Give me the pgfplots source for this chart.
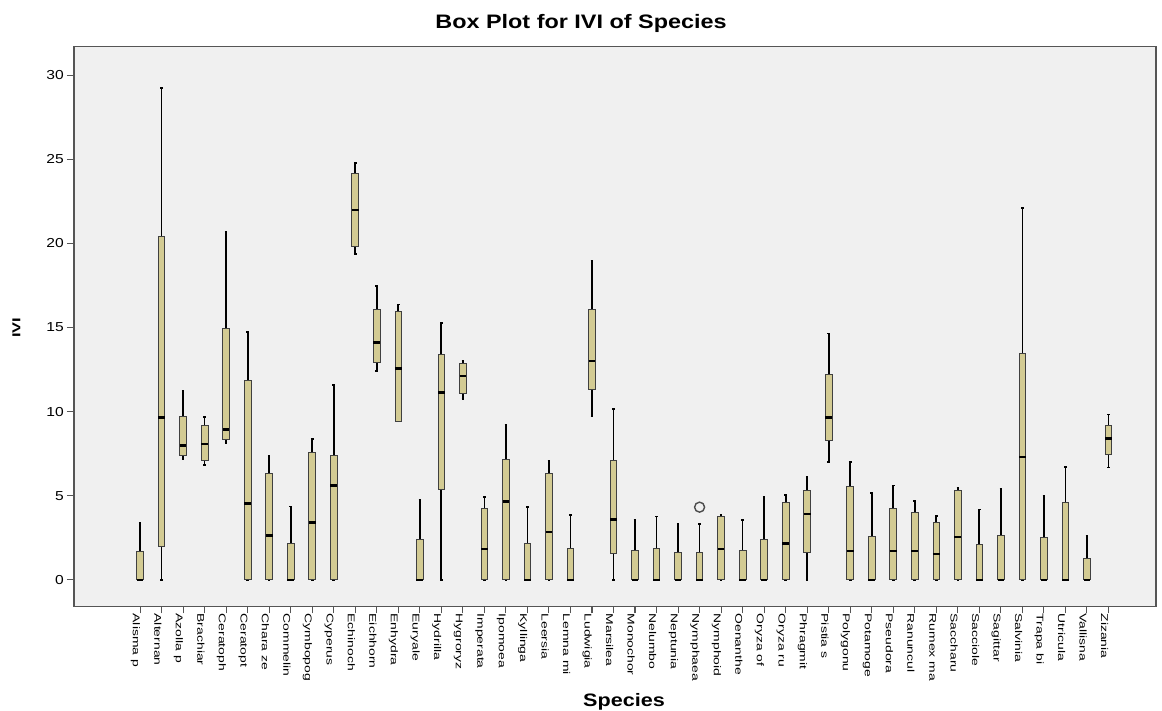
\documentclass[border=0pt]{standalone}
\usepackage{fontspec}
\setmainfont{Liberation Sans}
\newfontfamily\hfont[FakeStretch=1.2]{Liberation Sans}
\newfontfamily\vfont[FakeStretch=1.42]{Liberation Sans}
\usepackage{pgfplots}
\pgfplotsset{compat=1.18}
\usepgfplotslibrary{statistics}
\definecolor{plotbg}{HTML}{F0F0F0}
\definecolor{boxfill}{HTML}{D3CB93}
\definecolor{framec}{HTML}{555555}
\pgfplotsset{
  bx/.style n args={6}{boxplot prepared={draw direction=y, draw position=#1, lower whisker=#2, lower quartile=#3, median=#4, upper quartile=#5, upper whisker=#6, box extend=0.31, whisker extend=0.12}},
}
\begin{document}
\begin{tikzpicture}
\useasboundingbox (-74pt,-104.5pt) rectangle (1088pt,606.5pt);
\begin{axis}[
  at={(0pt,0pt)}, anchor=south west,
  scale only axis, width=1082pt, height=560pt,
  xmin=-3.07, xmax=47.21, ymin=-1.585, ymax=31.70,
  axis background/.style={fill=plotbg},
  axis line style={draw=framec, line width=1.3pt},
  tick align=outside, tick pos=left,
  major tick length=7pt,
  major tick style={draw=framec, line width=1.1pt},
  xtick={0,...,45},
  xticklabels={Alisma p,Alternan,Azolla p,Brachiar,Ceratoph,Ceratopt,Chara ze,Commelin,Cymbopog,Cyperus,Echinoch,Eichhorn,Enhydra,Euryale,Hydrilla,Hygroryz,Imperata,Ipomoea,Kyllinga,Leersia,Lemna mi,Ludwigia,Marsilea,Monochor,Nelumbo,Neptunia,Nymphaea,Nymphoid,Oenanthe,Oryza of,Oryza ru,Phragmit,Pistia s,Polygonu,Potamoge,Pseudora,Ranuncul,Rumex ma,Saccharu,Sacciole,Sagittar,Salvinia,Trapa bi,Utricula,Vallisna,Zizania},
  x tick label style={font=\vfont\fontsize{9.8}{9.8}\selectfont, rotate=-90, anchor=north west, inner sep=0pt},
  ytick={0,5,...,30},
  y tick label style={font=\hfont\fontsize{13}{13}\selectfont, anchor=east, inner sep=0pt, xshift=-3pt},
  /pgf/number format/assume math mode=true,
  title={Box Plot for IVI of Species},
  title style={font=\hfont\bfseries\fontsize{19.5}{20}\selectfont, at={(axis description cs:0.4686,1.0223)}, anchor=base, inner sep=0pt},
  xlabel={Species},
  xlabel style={font=\hfont\bfseries\fontsize{18}{18}\selectfont, at={(axis description cs:0.5083,-0.1789)}, anchor=base, inner sep=0pt},
  ylabel={IVI},
  ylabel style={font=\vfont\bfseries\fontsize{11.5}{11.5}\selectfont, at={(axis description cs:-0.0533,0.498)}, anchor=center, inner sep=0pt},
  boxplot/every box/.style={draw=black!75, fill=boxfill, line width=0.9pt},
  boxplot/every whisker/.style={draw=black, line width=1.7pt},
  boxplot/every median/.style={draw=black, line width=2.4pt},
  clip=false,
]
\addplot[bx={0}{0}{0}{0}{1.67}{3.41}] coordinates {};
\addplot[bx={1}{0}{2.0}{9.64}{20.43}{29.24}] coordinates {};
\addplot[bx={2}{7.16}{7.40}{7.99}{9.69}{11.23}] coordinates {};
\addplot[bx={3}{6.83}{7.07}{8.06}{9.20}{9.69}] coordinates {};
\addplot[bx={4}{8.15}{8.37}{8.94}{14.97}{20.70}] coordinates {};
\addplot[bx={5}{0}{0}{4.54}{11.85}{14.71}] coordinates {};
\addplot[bx={6}{0}{0}{2.64}{6.30}{7.35}] coordinates {};
\addplot[bx={7}{0}{0}{0}{2.16}{4.36}] coordinates {};
\addplot[bx={8}{0}{0}{3.41}{7.60}{8.39}] coordinates {};
\addplot[bx={9}{0}{0}{5.61}{7.38}{11.58}] coordinates {};
\addplot[bx={10}{19.37}{19.84}{21.97}{24.17}{24.79}] coordinates {};
\addplot[bx={11}{12.40}{12.95}{14.11}{16.07}{17.46}] coordinates {};
\addplot[bx={12}{9.42}{9.42}{12.55}{15.96}{16.36}] coordinates {};
\addplot[bx={13}{0}{0}{0}{2.38}{4.76}] coordinates {};
\addplot[bx={14}{0}{5.35}{11.14}{13.39}{15.26}] coordinates {};
\addplot[bx={15}{10.74}{11.07}{12.11}{12.88}{12.99}] coordinates {};
\addplot[bx={16}{0}{0}{1.83}{4.25}{4.91}] coordinates {};
\addplot[bx={17}{0}{0}{4.65}{7.16}{9.20}] coordinates {};
\addplot[bx={18}{0}{0}{0}{2.16}{4.32}] coordinates {};
\addplot[bx={19}{0}{0}{2.86}{6.34}{7.05}] coordinates {};
\addplot[bx={20}{0}{0}{0}{1.89}{3.85}] coordinates {};
\addplot[bx={21}{9.71}{11.29}{12.99}{16.09}{18.96}] coordinates {};
\addplot[bx={22}{0}{1.56}{3.59}{7.07}{10.15}] coordinates {};
\addplot[bx={23}{0}{0}{0}{1.76}{3.59}] coordinates {};
\addplot[bx={24}{0}{0}{0}{1.87}{3.76}] coordinates {};
\addplot[bx={25}{0}{0}{0}{1.61}{3.30}] coordinates {};
\addplot[bx={26}{0}{0}{0}{1.61}{3.32}, mark=o, mark size=5pt, mark options={draw=black!70, line width=1.4pt}] coordinates {(0,4.32)};
\addplot[bx={27}{0}{0}{1.83}{3.76}{3.87}] coordinates {};
\addplot[bx={28}{0}{0}{0}{1.76}{3.54}] coordinates {};
\addplot[bx={29}{0}{0}{0}{2.42}{4.91}] coordinates {};
\addplot[bx={30}{0}{0}{2.16}{4.62}{5.06}] coordinates {};
\addplot[bx={31}{0}{1.65}{3.92}{5.31}{6.12}] coordinates {};
\addplot[bx={32}{7.00}{8.26}{9.64}{12.18}{14.64}] coordinates {};
\addplot[bx={33}{0}{0}{1.72}{5.53}{7.00}] coordinates {};
\addplot[bx={34}{0}{0}{0}{2.60}{5.17}] coordinates {};
\addplot[bx={35}{0}{0}{1.72}{4.25}{5.61}] coordinates {};
\addplot[bx={36}{0}{0}{1.72}{4.03}{4.69}] coordinates {};
\addplot[bx={37}{0}{0}{1.54}{3.43}{3.81}] coordinates {};
\addplot[bx={38}{0}{0}{2.55}{5.31}{5.46}] coordinates {};
\addplot[bx={39}{0}{0}{0}{2.09}{4.18}] coordinates {};
\addplot[bx={40}{0}{0}{0}{2.66}{5.39}] coordinates {};
\addplot[bx={41}{0}{0}{7.29}{13.43}{22.08}] coordinates {};
\addplot[bx={42}{0}{0}{0}{2.49}{5.02}] coordinates {};
\addplot[bx={43}{0}{0}{0}{4.58}{6.72}] coordinates {};
\addplot[bx={44}{0}{0}{0}{1.28}{2.60}] coordinates {};
\addplot[bx={45}{6.67}{7.44}{8.39}{9.20}{9.82}] coordinates {};
\end{axis}
\end{tikzpicture}
\end{document}
